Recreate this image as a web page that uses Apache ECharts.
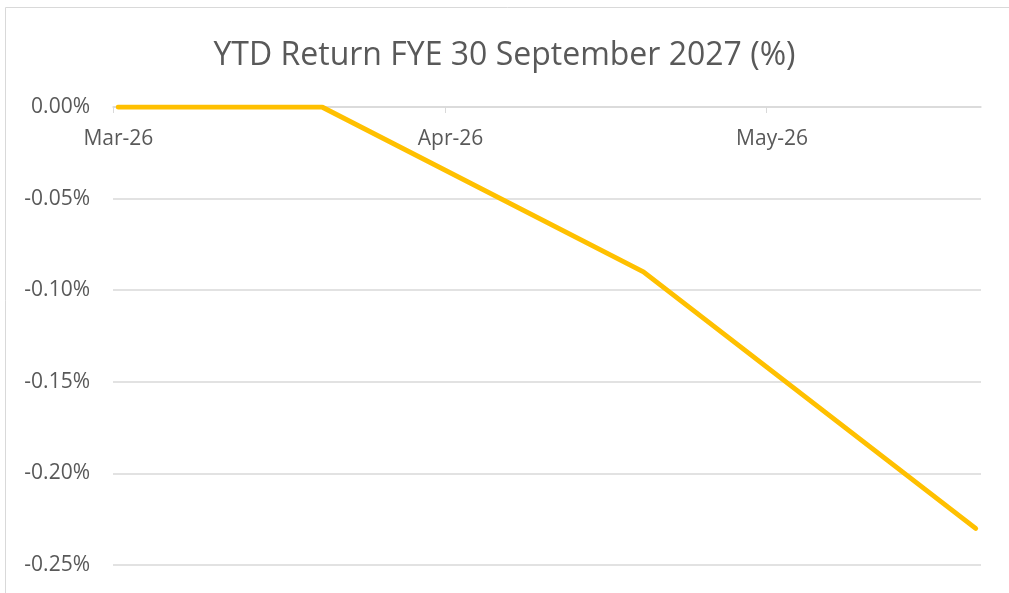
<!DOCTYPE html>
<html>
<head>
<meta charset="utf-8">
<script src="https://cdn.jsdelivr.net/npm/echarts@6/dist/echarts.min.js"></script>
<style>
  html, body { margin: 0; padding: 0; background: #fff; }
  #container { width: 1009px; height: 593px; }
</style>
</head>
<body>
<div id="container"></div>
<script>
// dates of the points and the YTD return (%) at each
var dates = ['2026-03-01', '2026-03-20', '2026-04-19', '2026-05-20'];
var returns = [0, 0, -0.09, -0.23];
// month ticks on the date axis
var monthStarts = ['2026-03-01', '2026-04-01', '2026-05-01'];
var axisStart = '2026-03-01';
var axisEnd = '2026-05-21';
var monthNames = ['Jan', 'Feb', 'Mar', 'Apr', 'May', 'Jun', 'Jul', 'Aug', 'Sep', 'Oct', 'Nov', 'Dec'];

// x is counted in days from axisStart; excel puts each day's point mid-day
var DAY = 24 * 3600 * 1000;
function dayOf(s) { return Math.round((Date.parse(s) - Date.parse(axisStart)) / DAY); }

var seriesData = dates.map(function (d, i) { return [dayOf(d) + 0.5, returns[i]]; });
var tickValues = monthStarts.map(dayOf);
var labelValues = tickValues.map(function (t) { return t + 0.5; });

var textColor = '#595959';
var gridColor = '#d9d9d9';
var font = '"Open Sans", "DejaVu Sans", sans-serif';

var myChart = echarts.init(document.getElementById('container'));
var option = {
  animation: false,
  title: {
    text: 'YTD Return FYE 30 September 2027 (%)',
    left: 'center',
    top: 35,
    textStyle: { color: textColor, fontSize: 32, fontWeight: 'normal', fontFamily: font }
  },
  graphic: [{
    type: 'rect',
    shape: { x: 5.5, y: 7.5, width: 1020, height: 620 },
    style: { fill: 'none', stroke: gridColor, lineWidth: 1 },
    silent: true
  }],
  grid: { left: 113, right: 28, top: 107, bottom: 28, containLabel: false },
  xAxis: {
    type: 'value',
    position: 'top',
    min: 0,
    max: dayOf(axisEnd),
    axisLine: { onZero: false, lineStyle: { color: gridColor, width: 1.5 } },
    axisTick: { show: true, inside: true, customValues: tickValues, length: 6, lineStyle: { color: gridColor } },
    axisLabel: {
      inside: true,
      customValues: labelValues,
      color: textColor,
      fontSize: 21,
      fontFamily: font,
      margin: 22,
      formatter: function (v) {
        var d = new Date(Date.parse(axisStart) + Math.floor(v) * DAY);
        return monthNames[d.getUTCMonth()] + '-' + String(d.getUTCFullYear()).slice(2);
      }
    },
    splitLine: { show: false }
  },
  yAxis: {
    type: 'value',
    min: -0.25,
    max: 0,
    interval: 0.05,
    axisLine: { show: false },
    axisTick: { show: false },
    axisLabel: {
      color: textColor,
      fontSize: 21,
      fontFamily: font,
      margin: 23,
      formatter: function (v) { return v.toFixed(2) + '%'; }
    },
    splitLine: { lineStyle: { color: gridColor, width: 1.5 } }
  },
  series: [{
    name: 'YTD Return',
    type: 'line',
    data: seriesData,
    showSymbol: false,
    lineStyle: { color: '#FFC000', width: 5, cap: 'round', join: 'round' }
  }]
};
myChart.setOption(option);
</script>
</body>
</html>
